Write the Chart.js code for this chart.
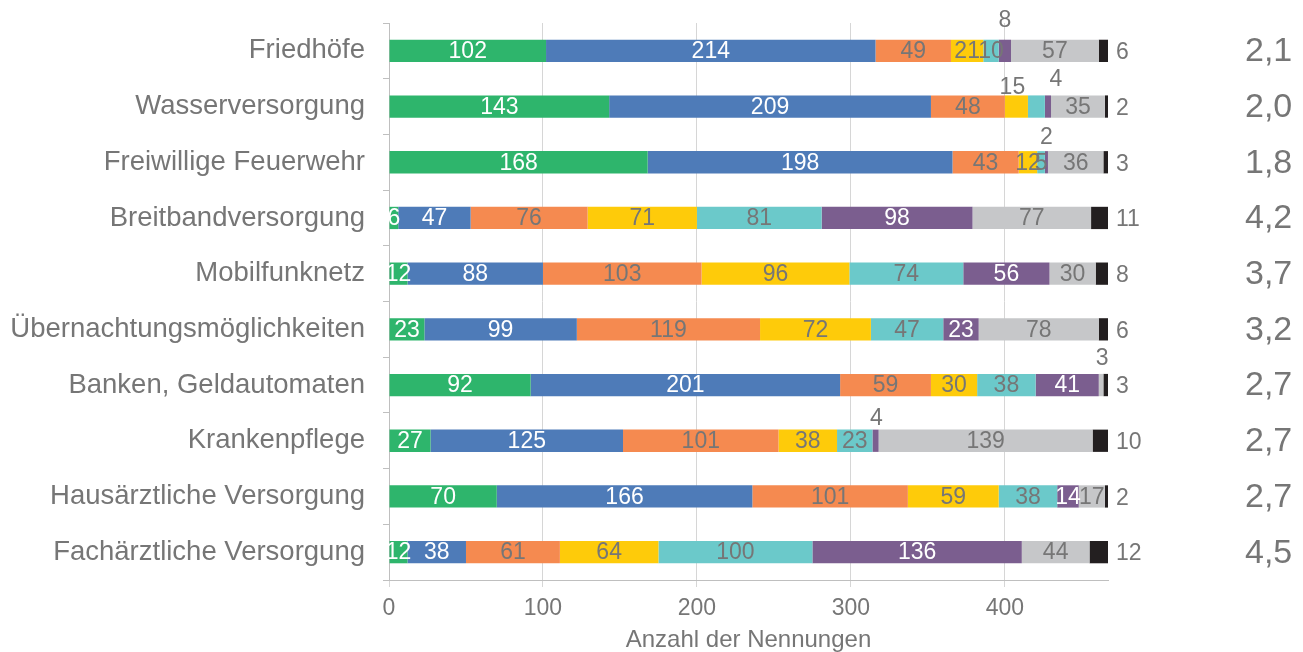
<!DOCTYPE html>
<html lang="de">
<head>
<meta charset="utf-8">
<script src="https://cdn.jsdelivr.net/npm/chart.js@4.4.1/dist/chart.umd.min.js"></script>
<style>
  html, body { margin: 0; padding: 0; background: #ffffff; }
  #wrap { width: 1303px; height: 652px; position: relative; }
</style>
</head>
<body>
<div id="wrap"><canvas id="chart"></canvas></div>
<script>
// Kategorien (von oben nach unten)
const categories = [
  'Friedhöfe',
  'Wasserversorgung',
  'Freiwillige Feuerwehr',
  'Breitbandversorgung',
  'Mobilfunknetz',
  'Übernachtungsmöglichkeiten',
  'Banken, Geldautomaten',
  'Krankenpflege',
  'Hausärztliche Versorgung',
  'Fachärztliche Versorgung'
];

// Durchschnittsnoten je Kategorie
const averages = ['2,1', '2,0', '1,8', '4,2', '3,7', '3,2', '2,7', '2,7', '2,7', '4,5'];

// Anzahl der Nennungen je Bewertung
const grade1 = [102, 143, 168, 6, 12, 23, 92, 27, 70, 12];
const grade2 = [214, 209, 198, 47, 88, 99, 201, 125, 166, 38];
const grade3 = [49, 48, 43, 76, 103, 119, 59, 101, 101, 61];
const grade4 = [21, 15, 12, 71, 96, 72, 30, 38, 59, 64];
const grade5 = [10, 11, 5, 81, 74, 47, 38, 23, 38, 100];
const grade6 = [8, 4, 2, 98, 56, 23, 41, 4, 14, 136];
const dontKnow = [57, 35, 36, 77, 30, 78, 3, 139, 17, 44];
const noAnswer = [6, 2, 3, 11, 8, 6, 3, 10, 2, 12];

// x-Achse
const xTicks = [0, 100, 200, 300, 400];
const xMax = 467;

const FONT = '"Liberation Sans", Arial, Helvetica, sans-serif';
const TEXT = '#767676';
const AXIS = '#bfbfbf';

const seriesColors = ['#2eb56c', '#4e7bb8', '#f58a50', '#fecb0a', '#6bc9ca', '#7b5e8f', '#c6c7c9', '#231f20'];
const whiteText = [true, true, false, false, false, true, false, false];

// Beschriftungen kleiner Segmente oberhalb des Balkens: "kategorie:serie" -> Versatz
const raisedLabels = {
  '0:5': { dx: 0, dy: 30 },
  '1:3': { dx: -4, dy: 19 },
  '1:5': { dx: 8, dy: 27 },
  '2:5': { dx: 0, dy: 25 },
  '6:6': { dx: 1, dy: 26 },
  '7:5': { dx: 1, dy: 22 }
};
const hiddenLabels = ['1:4'];

const segmentLabels = {
  id: 'segmentLabels',
  afterDatasetsDraw(chart) {
    const ctx = chart.ctx;
    ctx.save();
    ctx.font = '23px ' + FONT;
    ctx.textBaseline = 'middle';
    const last = chart.data.datasets.length - 1;
    chart.data.datasets.forEach((ds, si) => {
      const meta = chart.getDatasetMeta(si);
      meta.data.forEach((bar, ci) => {
        const key = ci + ':' + si;
        if (hiddenLabels.includes(key)) return;
        const v = ds.data[ci];
        const p = bar.getProps(['x', 'y', 'base'], true);
        const cx = (p.x + p.base) / 2;
        if (si === last) {
          ctx.textAlign = 'left';
          ctx.fillStyle = TEXT;
          ctx.fillText(String(v), p.x + 8, p.y + 2);
        } else if (raisedLabels[key]) {
          const r = raisedLabels[key];
          ctx.textAlign = 'center';
          ctx.fillStyle = TEXT;
          ctx.fillText(String(v), cx + r.dx, p.y - r.dy);
        } else {
          ctx.textAlign = 'center';
          ctx.fillStyle = whiteText[si] ? '#ffffff' : TEXT;
          ctx.fillText(String(v), cx, p.y + 1);
        }
      });
    });
    ctx.restore();
  }
};

// Durchschnittsnoten rechts neben dem Diagramm, an den Kategorien der y-Achse ausgerichtet
const averageColumn = {
  id: 'averageColumn',
  afterDraw(chart) {
    const ctx = chart.ctx;
    const yScale = chart.scales.y;
    ctx.save();
    ctx.font = '34px ' + FONT;
    ctx.fillStyle = TEXT;
    ctx.textAlign = 'left';
    ctx.textBaseline = 'middle';
    averages.forEach((a, i) => {
      ctx.fillText(a, chart.chartArea.right + 137, yScale.getPixelForValue(i) + 1);
    });
    ctx.restore();
  }
};

const series = [grade1, grade2, grade3, grade4, grade5, grade6, dontKnow, noAnswer];
const seriesNames = ['1', '2', '3', '4', '5', '6', 'weiß nicht', 'keine Angabe'];

new Chart(document.getElementById('chart'), {
  type: 'bar',
  data: {
    labels: categories,
    datasets: series.map((d, i) => ({
      label: seriesNames[i],
      data: d,
      backgroundColor: seriesColors[i],
      borderWidth: 0,
      barPercentage: 0.4,
      categoryPercentage: 1.0
    }))
  },
  options: {
    indexAxis: 'y',
    responsive: true,
    maintainAspectRatio: false,
    animation: false,
    layout: { padding: { top: 23, right: 195, bottom: 0, left: 0 } },
    plugins: {
      legend: { display: false },
      tooltip: { enabled: false }
    },
    scales: {
      x: {
        stacked: true,
        min: 0,
        max: xMax,
        afterBuildTicks(scale) { scale.ticks = xTicks.map(v => ({ value: v })); },
        afterFit(scale) { scale.height = 72; scale.paddingLeft = 0; scale.paddingRight = 0; },
        grid: { color: '#d6d6d6', drawTicks: true, tickLength: 7 },
        border: { display: true, color: AXIS },
        ticks: { color: TEXT, font: { family: FONT, size: 23 }, padding: 8 },
        title: {
          display: true,
          text: 'Anzahl der Nennungen',
          color: TEXT,
          font: { family: FONT, size: 24 },
          padding: { top: 0, bottom: -3 }
        }
      },
      y: {
        stacked: true,
        offset: true,
        afterFit(scale) { scale.width = 389; scale.paddingTop = 0; scale.paddingBottom = 0; },
        grid: { display: true, drawOnChartArea: false, drawTicks: true, tickLength: 6, offset: true, color: AXIS },
        border: { display: true, color: AXIS },
        ticks: { color: TEXT, font: { family: FONT, size: 27.5 }, padding: 18, autoSkip: false }
      }
    }
  },
  plugins: [segmentLabels, averageColumn]
});
</script>
</body>
</html>
